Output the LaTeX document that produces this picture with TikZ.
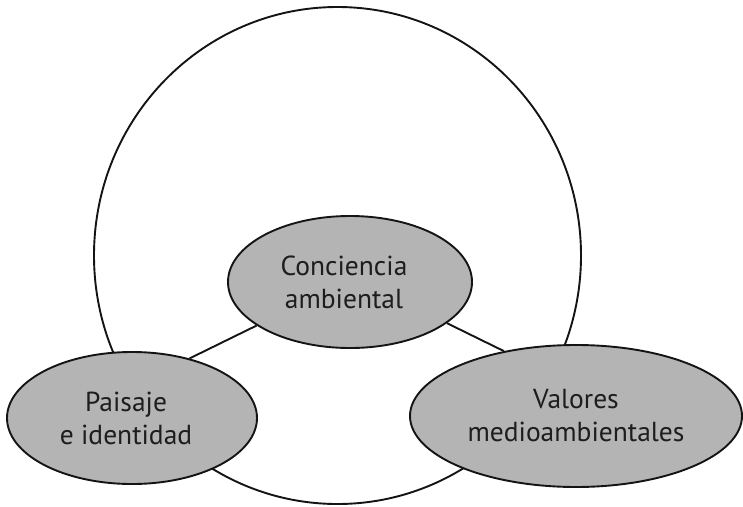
\documentclass[tikz,border=0pt]{standalone}
\usepackage{fontspec}
\setmainfont{PT Sans}
\usetikzlibrary{shapes.geometric}
\definecolor{bubblefill}{RGB}{179,180,179}
\definecolor{inkline}{RGB}{20,20,20}
\definecolor{inktext}{RGB}{30,28,28}
% pushes a centred line a little to the left
\newcommand{\leftnudge}{\hspace*{12pt}}
\begin{document}
\begin{tikzpicture}[x=1pt,y=-1pt,
  bubble/.style={ellipse,draw=inkline,line width=1.9pt,fill=bubblefill,
    inner sep=0pt,text=inktext,align=center,
    font=\fontsize{27.5}{33}\selectfont},
  link/.style={draw=inkline,line width=1.9pt}]
\useasboundingbox (0,0) rectangle (743,506);
% outer ring enclosing the three topics
\draw[inkline,line width=1.9pt] (337.5,255.5) ellipse [x radius=243.5pt,y radius=248.5pt];
% the three topics
\node[bubble,minimum width=244pt,minimum height=132pt] (conc) at (350,282) {Conciencia\leftnudge\\ambiental\leftnudge};
\node[bubble,minimum width=250pt,minimum height=132pt] (pais) at (132,418) {Paisaje\leftnudge\\e identidad\leftnudge};
\node[bubble,minimum width=332pt,minimum height=142pt] (valo) at (576,416) {Valores\\medioambientales};
% connectors between topics
\draw[link] (pais.46.5) -- (conc.205.6);
\draw[link] (conc.337.6) -- (valo.138.8);
\end{tikzpicture}
\end{document}
